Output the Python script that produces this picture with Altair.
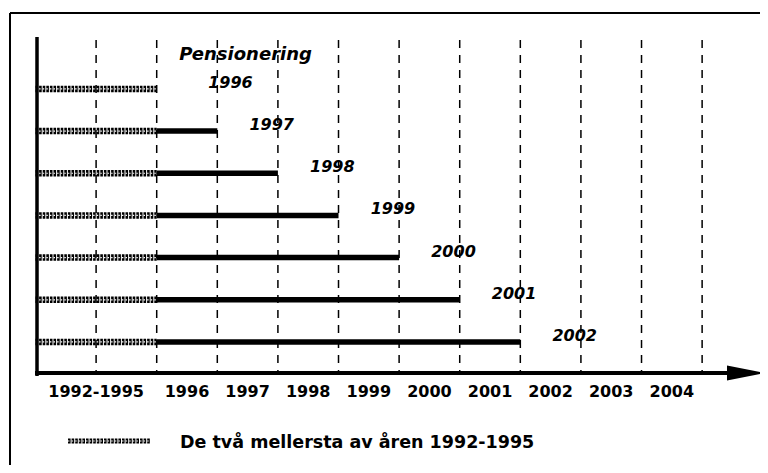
import altair as alt
import pandas as pd

# ---- data -------------------------------------------------------------
row_labels = ["1996", "1997", "1998", "1999", "2000", "2001", "2002"]
# period index on the time axis: 0-2 = 1992-1995, 2 = start 1996, 3 = start 1997 ...
base_start = [0, 0, 0, 0, 0, 0, 0]
base_end = [2, 2, 2, 2, 2, 2, 2]
pension_end = [2, 3, 4, 5, 6, 7, 8]

tick_labels = ["1992-1995", "1996", "1997", "1998", "1999",
               "2000", "2001", "2002", "2003", "2004"]
tick_pos = [1, 2.5, 3.5, 4.5, 5.5, 6.5, 7.5, 8.5, 9.5, 10.5]
grid_pos = [1, 2, 3, 4, 5, 6, 7, 8, 9, 10, 11]

title_text = "Pensionering"
legend_text = "De två mellersta av åren 1992-1995"

# ---- frames -------------------------------------------------------------
rows = pd.DataFrame({
    "row": list(range(len(row_labels))),
    "label": row_labels,
    "b0": base_start,
    "b1": base_end,
    "end": pension_end,
})
ticks = pd.DataFrame({"label": tick_labels, "pos": tick_pos})
grid = pd.DataFrame({"pos": grid_pos})

W, H = 752, 457
X = alt.Scale(domain=[-0.4538, 11.955], nice=False, zero=False)
Y = alt.Scale(domain=[-1.918, 8.917], nice=False, zero=False, reverse=True)

def one(d=None):
    return alt.Chart(pd.DataFrame([d or {"k": 0}]))

BLACK = "#000000"

# frame (scanned page border: left + top)
frame_top = one().mark_rule(color=BLACK, strokeWidth=2).encode(
    x=alt.value(2), x2=alt.value(W), y=alt.value(5))
frame_left = one().mark_rule(color=BLACK, strokeWidth=2).encode(
    x=alt.value(2), y=alt.value(5), y2=alt.value(H))

# dashed vertical grid lines
grid_lines = alt.Chart(grid).mark_rule(
    color=BLACK, strokeWidth=1.5, strokeDash=[8, 7]
).encode(x=alt.X("pos:Q", scale=X, axis=None), y=alt.value(32), y2=alt.value(365))

# rope-like hatched segment (1992-1995 reference)
rope_base = alt.Chart(rows).mark_rule(
    color=BLACK, strokeWidth=6.5, strokeDash=[2.6, 1.0]
).encode(
    x=alt.X("b0:Q", scale=X, axis=None), x2="b1:Q",
    y=alt.Y("row:Q", scale=Y, axis=None))
rope_hole = alt.Chart(rows).mark_rule(
    color="#ffffff", strokeWidth=1.2, strokeDash=[1.5, 2.1]
).encode(
    x=alt.X("b0:Q", scale=X, axis=None), x2="b1:Q",
    y=alt.Y("row:Q", scale=Y, axis=None))

# solid pension segment
solid = alt.Chart(rows).transform_filter("datum.end > datum.b1").mark_rule(
    color=BLACK, strokeWidth=5.5
).encode(
    x=alt.X("b1:Q", scale=X, axis=None), x2="end:Q",
    y=alt.Y("row:Q", scale=Y, axis=None))

# row labels
row_text = alt.Chart(rows).transform_calculate(
    lx="datum.end + (datum.row == 0 ? 0.85 : 0.53)"
).mark_text(
    align="left", baseline="middle", dy=-6, font="DejaVu Sans",
    fontSize=16, fontWeight="bold", fontStyle="italic", color=BLACK
).encode(
    x=alt.X("lx:Q", scale=X, axis=None),
    y=alt.Y("row:Q", scale=Y, axis=None),
    text="label:N")

title = one().mark_text(
    align="center", baseline="middle", font="DejaVu Sans", fontSize=18,
    fontWeight="bold", fontStyle="italic", color=BLACK, text=title_text
).encode(x=alt.value(237.5), y=alt.value(47))

# axes
y_axis = one().mark_rule(color=BLACK, strokeWidth=3.5).encode(
    x=alt.value(29), y=alt.value(29), y2=alt.value(368))
x_axis = one().mark_rule(color=BLACK, strokeWidth=4).encode(
    x=alt.value(27), x2=alt.value(722), y=alt.value(365))
arrow = one().mark_point(
    shape="M -1 -0.4 L 1 0 L -1 0.4 Z", size=1444, filled=True,
    color=BLACK, opacity=1, strokeWidth=0
).encode(x=alt.value(738), y=alt.value(365))

tick_text = alt.Chart(ticks).mark_text(
    align="center", baseline="middle", font="DejaVu Sans", fontSize=16,
    fontWeight="bold", color=BLACK
).encode(x=alt.X("pos:Q", scale=X, axis=None), y=alt.value(384), text="label:N")

# legend
leg_base = one().mark_rule(color=BLACK, strokeWidth=5, strokeDash=[2.6, 1.0]).encode(
    x=alt.value(60), x2=alt.value(142), y=alt.value(433))
leg_hole = one().mark_rule(color="#ffffff", strokeWidth=1.0, strokeDash=[1.5, 2.1]).encode(
    x=alt.value(60), x2=alt.value(142), y=alt.value(433))
leg_text = one().mark_text(
    align="left", baseline="middle", font="DejaVu Sans", fontSize=17.5,
    fontWeight="bold", color=BLACK, text=legend_text
).encode(x=alt.value(172), y=alt.value(435))

chart = alt.layer(
    frame_top, frame_left, grid_lines, rope_base, rope_hole, solid,
    y_axis, x_axis, arrow, row_text, title, tick_text,
    leg_base, leg_hole, leg_text
).properties(
    width=W, height=H, padding=0,
    autosize=alt.AutoSizeParams(type="none"),
    background="white"
).configure_view(stroke=None)

chart.save("out.html", embed_options={"renderer": "svg", "actions": False})
